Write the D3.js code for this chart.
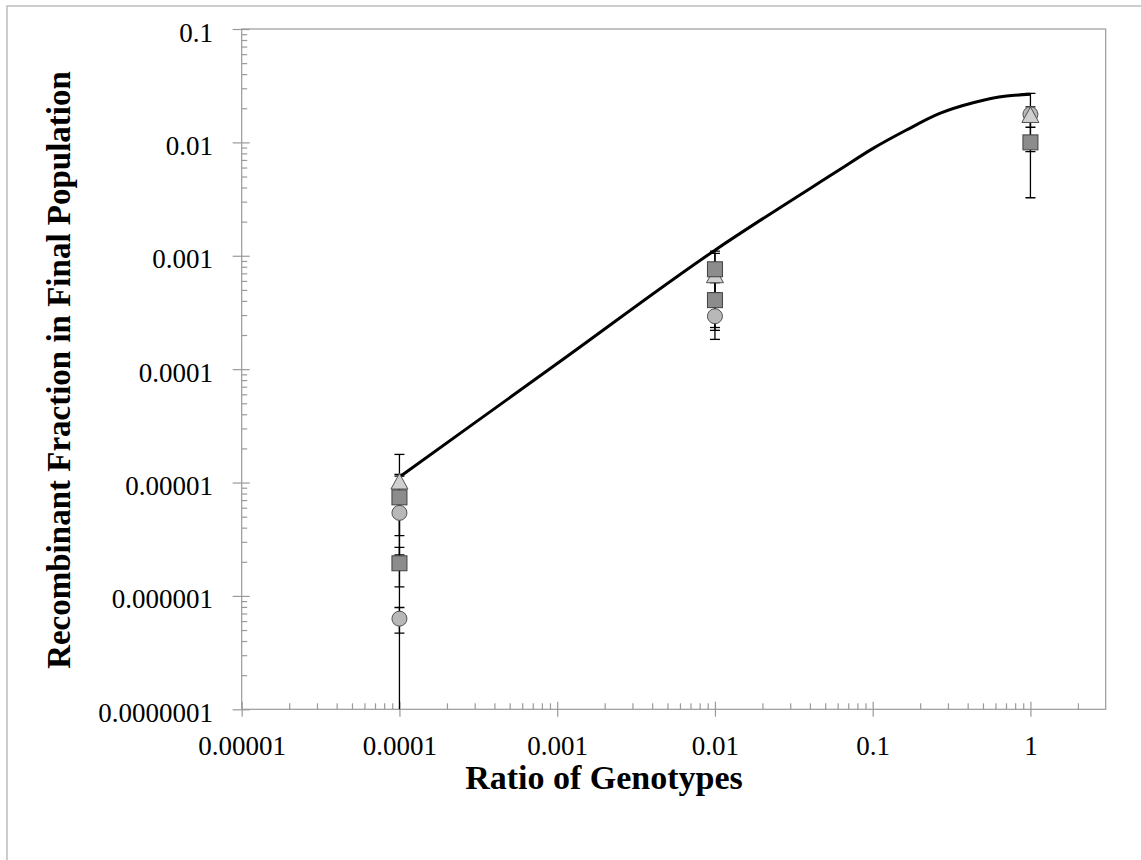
<!DOCTYPE html>
<html>
<head>
<meta charset="utf-8">
<script src="https://cdn.jsdelivr.net/npm/d3@7"></script>
<style>
  html, body { margin: 0; padding: 0; background: #fff; }
  svg { display: block; }
</style>
</head>
<body>
<svg id="chart"></svg>
<script>
const W = 1141, H = 860

// x positions of the measurements
const ratios = [0.0001, 0.01, 1]

// series values (null = no point) and their +/- errors
const circlesA = [5.4e-6, 2.93e-4, 0.0177]
const circlesAErr = [6.4e-6, 1.1e-4, 0.0094]
const circlesB = [6.3e-7, null, null]
const circlesBErr = [1.6e-7, null, null]
const triangles = [1.0e-5, 6.6e-4, 0.0171]
const trianglesErr = [7.7e-6, 4.4e-4, 0.0035]
const squaresA = [7.4e-6, 7.6e-4, 0.01]
const squaresAErr = [4.0e-6, 2.9e-4, 0.00675]
const squaresB = [1.94e-6, 4.06e-4, null]
const squaresBErr = [0.74e-6, 1.73e-4, null]

// model curve
const curveX = [0.0001, 0.001, 0.01, 0.0619, 0.1006, 0.1637, 0.266, 0.433, 0.705, 1]
const curveY = [1.12e-5, 1.12e-4, 1.12e-3, 5.76e-3, 8.85e-3, 0.01285, 0.018, 0.02237, 0.02564, 0.02653]

// axis ticks
const xTicks = [1e-5, 1e-4, 1e-3, 1e-2, 1e-1, 1]
const xTickLabels = ['0.00001', '0.0001', '0.001', '0.01', '0.1', '1']
const yTicks = [1e-7, 1e-6, 1e-5, 1e-4, 1e-3, 1e-2, 1e-1]
const yTickLabels = ['0.0000001', '0.000001', '0.00001', '0.0001', '0.001', '0.01', '0.1']

const FONT = '"Liberation Serif", "Times New Roman", serif'
const AXIS = '#9a9a9a'

const L = 241.7, R = 1105.7, T = 29, B = 709.3

const x = d3.scaleLog().domain([1e-5, 3]).range([L, R])
const y = d3.scaleLog().domain([1e-7, 0.1]).range([B, T])

const svg = d3.select('#chart').attr('width', W).attr('height', H)

// chart area border (runs off the right and bottom of the picture)
svg.append('rect')
  .attr('x', 7).attr('y', 6)
  .attr('width', 1300).attr('height', 1000)
  .attr('fill', 'none')
  .attr('stroke', '#bdbdbd')
  .attr('stroke-width', 1.5)

// plot area frame
svg.append('rect')
  .attr('x', L).attr('y', T)
  .attr('width', R - L).attr('height', B - T)
  .attr('fill', 'none')
  .attr('stroke', AXIS)
  .attr('stroke-width', 1.2)

svg.append('clipPath').attr('id', 'plot-clip')
  .append('rect')
    .attr('x', L).attr('y', T)
    .attr('width', R - L).attr('height', B - T)

// minor ticks (inside)
function minors(lo, hi) {
  const out = []
  for (let e = Math.floor(Math.log10(lo)); e <= Math.ceil(Math.log10(hi)); e++) {
    for (let k = 2; k <= 9; k++) {
      const v = k * Math.pow(10, e)
      if (v > lo && v < hi) out.push(v)
    }
  }
  return out
}

svg.append('g')
  .attr('transform', `translate(0,${B})`)
  .call(d3.axisBottom(x).tickValues(minors(1e-5, 3)).tickSize(-6).tickFormat(''))
  .call(g => g.select('.domain').remove())
  .call(g => g.selectAll('line').attr('stroke', AXIS).attr('stroke-width', 1.2))

svg.append('g')
  .attr('transform', `translate(${L},0)`)
  .call(d3.axisLeft(y).tickValues(minors(1e-7, 0.1)).tickSize(-5.5).tickFormat(''))
  .call(g => g.select('.domain').remove())
  .call(g => g.selectAll('line').attr('stroke', AXIS).attr('stroke-width', 1.2))

// major ticks (crossing) with labels
const xAxis = svg.append('g')
  .attr('transform', `translate(0,${B})`)
  .call(d3.axisBottom(x).tickValues(xTicks).tickFormat((d, i) => xTickLabels[i]))
xAxis.select('.domain').remove()
xAxis.selectAll('line')
  .attr('y1', -7.6).attr('y2', 7.4)
  .attr('stroke', AXIS).attr('stroke-width', 1.2)
xAxis.selectAll('text')
  .attr('y', 755 - B).attr('dy', null)
  .attr('fill', '#000')
  .attr('font-family', FONT)
  .attr('font-size', '27px')

const yAxis = svg.append('g')
  .attr('transform', `translate(${L},0)`)
  .call(d3.axisLeft(y).tickValues(yTicks).tickFormat((d, i) => yTickLabels[i]))
yAxis.select('.domain').remove()
yAxis.selectAll('line')
  .attr('x1', -9).attr('x2', 8)
  .attr('stroke', AXIS).attr('stroke-width', 1.2)
yAxis.selectAll('text')
  .attr('x', 213 - L).attr('dy', '12px')
  .attr('fill', '#000')
  .attr('font-family', FONT)
  .attr('font-size', '27px')

// axis titles
svg.append('text')
  .attr('x', 604).attr('y', 789)
  .attr('text-anchor', 'middle')
  .attr('font-family', FONT)
  .attr('font-weight', 'bold')
  .attr('font-size', '34px')
  .text('Ratio of Genotypes')

svg.append('text')
  .attr('transform', 'translate(70,370) rotate(-90)')
  .attr('text-anchor', 'middle')
  .attr('font-family', FONT)
  .attr('font-weight', 'bold')
  .attr('font-size', '33px')
  .text('Recombinant Fraction in Final Population')

// model curve
const curvePts = curveX.map((v, i) => [v, curveY[i]])
svg.append('path')
  .datum(curvePts)
  .attr('d', d3.line().x(d => x(d[0])).y(d => y(d[1])).curve(d3.curveMonotoneX))
  .attr('fill', 'none')
  .attr('stroke', '#000')
  .attr('stroke-width', 3)

// series, in drawing order
const series = [
  { vals: circlesA,  errs: circlesAErr,  shape: 'circle' },
  { vals: circlesB,  errs: circlesBErr,  shape: 'circle' },
  { vals: triangles, errs: trianglesErr, shape: 'triangle' },
  { vals: squaresA,  errs: squaresAErr,  shape: 'square' },
  { vals: squaresB,  errs: squaresBErr,  shape: 'square' },
]

const points = []
series.forEach(s => s.vals.forEach((v, i) => {
  if (v != null) points.push({ x: ratios[i], v, e: s.errs[i], shape: s.shape })
}))

// error bars
const errG = svg.append('g').attr('clip-path', 'url(#plot-clip)')
  .attr('stroke', '#000').attr('stroke-width', 1.3)
points.forEach(p => {
  const cx = x(p.x)
  const hi = p.v + p.e
  const lo = p.v - p.e
  const yHi = y(hi)
  const yLo = lo > 0 ? y(lo) : B + 2
  errG.append('line').attr('x1', cx).attr('x2', cx).attr('y1', yHi).attr('y2', yLo)
  errG.append('line').attr('x1', cx - 5).attr('x2', cx + 5).attr('y1', yHi).attr('y2', yHi)
  if (lo > 0) errG.append('line').attr('x1', cx - 5).attr('x2', cx + 5).attr('y1', yLo).attr('y2', yLo)
})

// markers
const markG = svg.append('g')
points.forEach(p => {
  const cx = x(p.x), cy = y(p.v)
  if (p.shape === 'circle') {
    markG.append('circle')
      .attr('cx', cx).attr('cy', cy).attr('r', 7.5)
      .attr('fill', '#b8b8b8').attr('stroke', '#505050').attr('stroke-width', 1)
  } else if (p.shape === 'triangle') {
    markG.append('path')
      .attr('d', `M${cx},${cy - 9}L${cx + 8.5},${cy + 6.5}L${cx - 8.5},${cy + 6.5}Z`)
      .attr('fill', '#d0d0d0').attr('stroke', '#505050').attr('stroke-width', 1)
  } else {
    markG.append('rect')
      .attr('x', cx - 7.5).attr('y', cy - 7.5).attr('width', 15).attr('height', 15)
      .attr('fill', '#8c8c8c').attr('stroke', '#404040').attr('stroke-width', 1)
  }
})
</script>
</body>
</html>
